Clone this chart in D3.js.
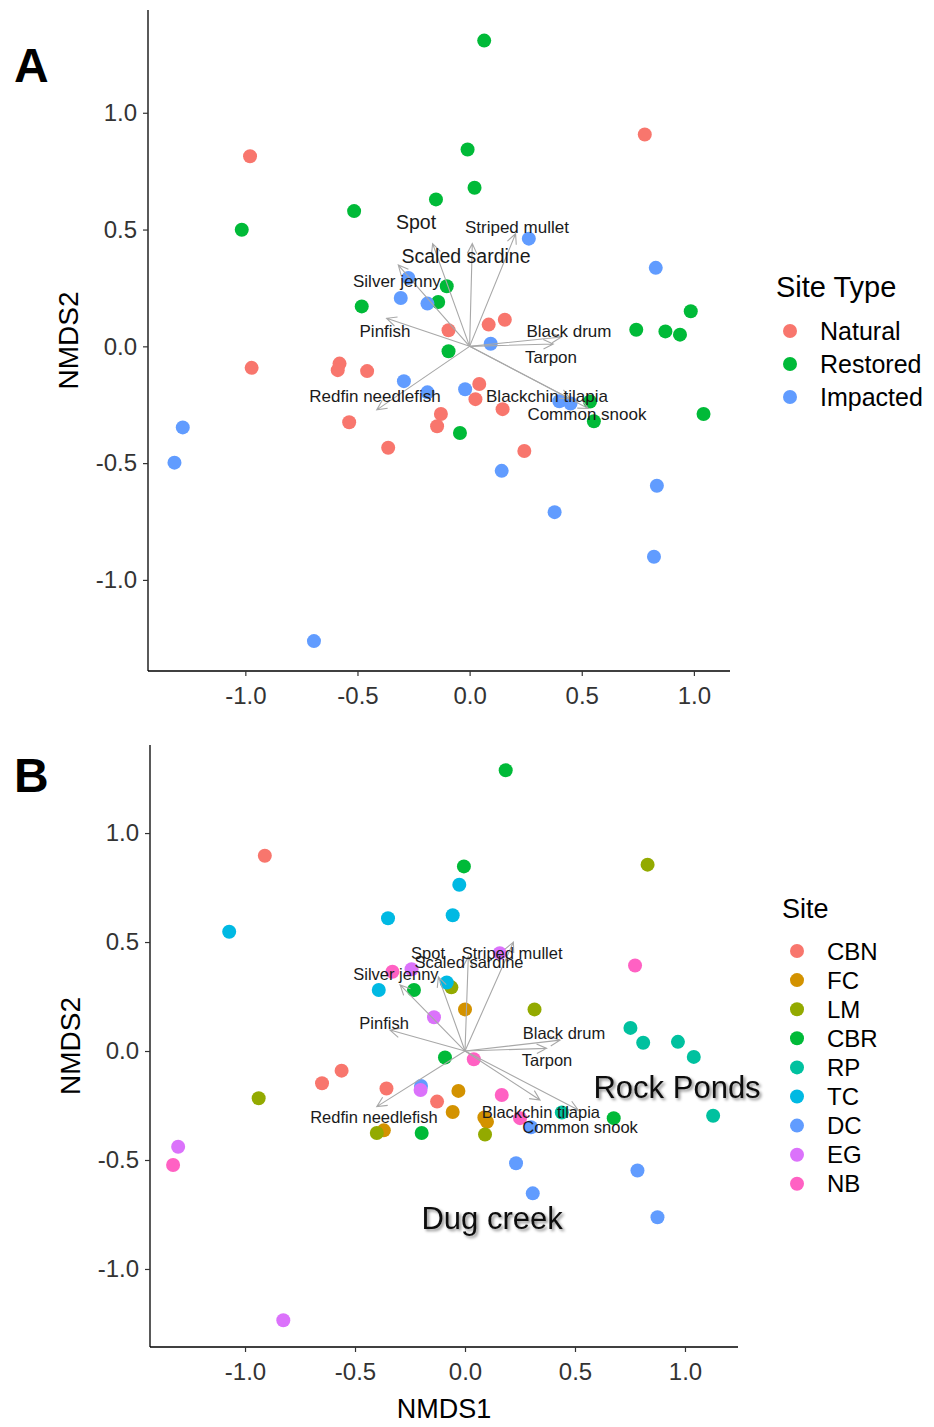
<!DOCTYPE html>
<html>
<head>
<meta charset="utf-8">
<script src="https://cdn.jsdelivr.net/npm/d3@7"></script>
<style>
  html, body { margin: 0; padding: 0; background: #fff; }
  svg { display: block; font-family: "Liberation Sans", Arial, sans-serif; }
</style>
</head>
<body>
<svg id="chart" width="934" height="1427"></svg>
<script>
// ---------------- DATA ----------------
// Panel A: site type groups, [NMDS1, NMDS2]
const siteTypes = ["Natural", "Restored", "Impacted"];
const naturalA = [[0.781,0.907],[-0.979,0.814],[0.157,0.114],[0.085,0.093],[-0.094,0.069],[-0.972,-0.092],
  [-0.580,-0.074],[-0.588,-0.102],[-0.457,-0.106],[0.043,-0.161],[0.026,-0.226],[0.147,-0.269],
  [-0.128,-0.290],[-0.145,-0.342],[-0.537,-0.325],[-0.363,-0.434],[0.244,-0.448]];
const restoredA = [[0.065,1.309],[-0.009,0.843],[0.022,0.679],[-0.150,0.629],[-0.515,0.579],[-1.016,0.499],
  [-0.102,0.257],[-0.140,0.190],[-0.481,0.171],[0.986,0.150],[0.743,0.071],[0.873,0.064],[0.938,0.050],
  [-0.094,-0.021],[0.537,-0.236],[0.554,-0.321],[1.043,-0.290],[-0.043,-0.371]];
const impactedA = [[0.264,0.461],[0.830,0.336],[-0.273,0.293],[-0.307,0.207],[-0.188,0.183],[0.094,0.011],
  [-0.293,-0.149],[-0.188,-0.197],[-0.020,-0.184],[0.400,-0.235],[0.450,-0.245],[-1.279,-0.347],
  [-1.316,-0.498],[0.143,-0.533],[0.835,-0.597],[0.379,-0.710],[0.822,-0.901],[-0.694,-1.262]];

// Panel B: sites
const sites = ["CBN", "FC", "LM", "CBR", "RP", "TC", "DC", "EG", "NB"];
const cbnB = [[-0.910,0.896],[-0.561,-0.090],[-0.650,-0.148],[-0.357,-0.172],[-0.127,-0.232]];
const fcB  = [[0.000,0.191],[-0.030,-0.183],[-0.056,-0.280],[0.088,-0.305],[0.100,-0.325],[-0.369,-0.364]];
const lmB  = [[0.830,0.855],[-0.062,0.292],[0.316,0.191],[-0.938,-0.217],[-0.401,-0.376],[0.091,-0.383]];
const cbrB = [[0.185,1.288],[-0.005,0.847],[-0.232,0.280],[-0.091,-0.030],[0.676,-0.308],[-0.197,-0.376]];
const rpB  = [[0.752,0.106],[0.810,0.038],[0.968,0.042],[1.040,-0.027],[0.440,-0.282],[1.128,-0.297]];
const tcB  = [[-0.026,0.763],[-0.350,0.609],[-0.056,0.623],[-1.072,0.547],[-0.083,0.314],[-0.392,0.280]];
const dcB  = [[-0.200,-0.160],[0.300,-0.350],[0.232,-0.515],[0.784,-0.548],[0.308,-0.653],[0.875,-0.763]];
const egB  = [[0.158,0.449],[-0.243,0.375],[-0.141,0.155],[-0.202,-0.179],[-1.304,-0.439],[-0.826,-1.235]];
const nbB  = [[0.773,0.392],[-0.330,0.364],[0.040,-0.038],[0.167,-0.202],[0.250,-0.308],[-1.327,-0.523]];

// Species vectors (envfit arrows) and label anchors
const species = ["Striped mullet","Scaled sardine","Spot","Silver jenny","Pinfish",
                 "Black drum","Tarpon","Redfin needlefish","Blackchin tilapia","Common snook"];
const vecA_x = [0.205, 0.012, -0.165, -0.318, -0.370, 0.410, 0.373, -0.414, 0.448, 0.529];
const vecA_y = [0.482, 0.440, 0.440, 0.348, 0.120, 0.040, 0.010, -0.272, -0.224, -0.266];
const labA_x = [0.211, -0.016, -0.239, -0.324, -0.377, 0.443, 0.363, -0.422, 0.345, 0.523];
const labA_y = [0.511, 0.387, 0.533, 0.280, 0.066, 0.066, -0.046, -0.212, -0.212, -0.289];

const vecB_x = [0.220, 0.015, -0.121, -0.295, -0.341, 0.432, 0.371, -0.401, 0.341, 0.515];
const vecB_y = [0.500, 0.433, 0.340, 0.303, 0.096, 0.050, 0.012, -0.255, -0.225, -0.271];
const labB_x = [0.214, 0.018, -0.168, -0.314, -0.368, 0.450, 0.373, -0.414, 0.345, 0.523];
const labB_y = [0.450, 0.408, 0.450, 0.353, 0.128, 0.083, -0.041, -0.303, -0.280, -0.349];

// Region annotations in panel B
const regionNames = ["Rock Ponds", "Dug creek"];
const regionX = [0.964, 0.123];
const regionY = [-0.165, -0.766];

const tickValues = [-1.0, -0.5, 0.0, 0.5, 1.0];

// ---------------- DRAWING ----------------
const svg = d3.select("#chart");
const typeColor = d3.scaleOrdinal().domain(siteTypes).range(["#F8766D", "#00BA38", "#619CFF"]);
const siteColor = d3.scaleOrdinal().domain(sites)
  .range(["#F8766D", "#D39200", "#93AA00", "#00BA38", "#00C19F", "#00B9E3", "#619CFF", "#DB72FB", "#FF61C3"]);

const defs = svg.append("defs");
const f = defs.append("filter").attr("id", "shadow").attr("x", "-10%").attr("y", "-30%")
  .attr("width", "130%").attr("height", "170%");
f.append("feDropShadow").attr("dx", 2).attr("dy", 2).attr("stdDeviation", 1.6)
  .attr("flood-color", "#000").attr("flood-opacity", 0.45);

function drawPanel(cfg) {
  const x = d3.scaleLinear().domain(cfg.xDomain).range([cfg.left, cfg.right]);
  const y = d3.scaleLinear().domain(cfg.yDomain).range([cfg.bottom, cfg.top]);
  const g = svg.append("g");

  // axes
  const xAxis = d3.axisBottom(x).tickValues(tickValues).tickFormat(d3.format(".1f")).tickSizeOuter(0).tickSize(5).tickPadding(11);
  const yAxis = d3.axisLeft(y).tickValues(tickValues).tickFormat(d3.format(".1f")).tickSizeOuter(0).tickSize(5).tickPadding(6);
  const gx = g.append("g").attr("transform", `translate(0,${cfg.bottom})`).call(xAxis);
  const gy = g.append("g").attr("transform", `translate(${cfg.left},0)`).call(yAxis);
  [gx, gy].forEach(a => {
    a.select(".domain").attr("stroke", "#000").attr("stroke-width", 1.3);
    a.selectAll(".tick line").attr("stroke", "#333").attr("stroke-width", 1.2);
    a.selectAll(".tick text").attr("fill", "#333").style("font-size", "24px")
      .style("font-family", "'Liberation Sans', Arial, sans-serif");
  });
  gx.selectAll(".tick text").text(d => d3.format(".1f")(d).replace("−", "-"));
  gy.selectAll(".tick text").text(d => d3.format(".1f")(d).replace("−", "-"));
  gx.select(".domain").attr("d", `M${cfg.left},0H${cfg.right}`);
  gy.select(".domain").attr("d", `M0,${cfg.top}V${cfg.bottom}`);

  // points
  cfg.groups.forEach(grp => {
    g.append("g").selectAll("circle").data(grp.pts).join("circle")
      .attr("cx", d => x(d[0])).attr("cy", d => y(d[1])).attr("r", 7)
      .attr("fill", grp.color);
  });

  // arrows
  const ag = g.append("g").attr("stroke", "#A8A8A8").attr("stroke-width", 1.1).attr("fill", "none");
  species.forEach((s, i) => {
    const x0 = x(0), y0 = y(0), x1 = x(cfg.vx[i]), y1 = y(cfg.vy[i]);
    const ang = Math.atan2(y1 - y0, x1 - x0), L = 11, a = Math.PI / 7;
    const p = d3.path();
    p.moveTo(x0, y0); p.lineTo(x1, y1);
    p.moveTo(x1 - L * Math.cos(ang - a), y1 - L * Math.sin(ang - a));
    p.lineTo(x1, y1);
    p.lineTo(x1 - L * Math.cos(ang + a), y1 - L * Math.sin(ang + a));
    ag.append("path").attr("d", p.toString());
  });

  // species labels
  g.append("g").selectAll("text").data(species).join("text")
    .attr("x", (d, i) => x(cfg.lx[i])).attr("y", (d, i) => y(cfg.ly[i]))
    .attr("dy", "0.35em").attr("text-anchor", "middle")
    .attr("fill", "#1a1a1a")
    .style("font-size", (d, i) => (cfg.bigLabels.includes(d) ? cfg.bigSize : cfg.labSize) + "px")
    .text(d => d);

  // panel letter
  svg.append("text").attr("x", 14).attr("y", cfg.letterY).attr("font-weight", "bold")
    .style("font-size", "48px").attr("fill", "#000").text(cfg.letter);

  // y title
  svg.append("text").attr("transform", `translate(${cfg.yTitleX},${(cfg.top + cfg.bottom) / 2}) rotate(-90)`)
    .attr("text-anchor", "middle").attr("dy", "0.35em").style("font-size", "28px").attr("fill", "#000")
    .text("NMDS2");

  // legend
  const lg = svg.append("g");
  lg.append("text").attr("x", cfg.legX).attr("y", cfg.legTitleY).attr("dy", "0.35em")
    .style("font-size", cfg.legTitleSize + "px").attr("fill", "#000").text(cfg.legTitle);
  cfg.legItems.forEach((name, i) => {
    const yy = cfg.legY0 + i * cfg.legStep;
    lg.append("circle").attr("cx", cfg.legDotX).attr("cy", yy).attr("r", 7).attr("fill", cfg.legColor(name));
    lg.append("text").attr("x", cfg.legDotX + 30).attr("y", yy).attr("dy", "0.36em")
      .style("font-size", cfg.legSize + "px").attr("fill", "#000").text(name);
  });
  return { x, y, g };
}

drawPanel({
  xDomain: [-1.434, 1.161], yDomain: [-1.39, 1.44],
  left: 148, right: 730, top: 10, bottom: 671,
  groups: [
    { pts: naturalA, color: typeColor("Natural") },
    { pts: restoredA, color: typeColor("Restored") },
    { pts: impactedA, color: typeColor("Impacted") }
  ],
  vx: vecA_x, vy: vecA_y, lx: labA_x, ly: labA_y,
  labSize: 17, bigSize: 19.5, bigLabels: ["Spot", "Scaled sardine"],
  letter: "A", letterY: 82, yTitleX: 68,
  legTitle: "Site Type", legTitleSize: 29, legX: 776, legTitleY: 287,
  legItems: siteTypes, legColor: typeColor, legDotX: 790, legY0: 331, legStep: 33, legSize: 25
});

const pB = drawPanel({
  xDomain: [-1.432, 1.241], yDomain: [-1.358, 1.404],
  left: 150, right: 738, top: 745, bottom: 1347,
  groups: [
    { pts: cbnB, color: siteColor("CBN") }, { pts: fcB, color: siteColor("FC") },
    { pts: lmB, color: siteColor("LM") }, { pts: cbrB, color: siteColor("CBR") },
    { pts: rpB, color: siteColor("RP") }, { pts: tcB, color: siteColor("TC") },
    { pts: dcB, color: siteColor("DC") }, { pts: egB, color: siteColor("EG") },
    { pts: nbB, color: siteColor("NB") }
  ],
  vx: vecB_x, vy: vecB_y, lx: labB_x, ly: labB_y,
  labSize: 16.5, bigSize: 16.5, bigLabels: [],
  letter: "B", letterY: 792, yTitleX: 70,
  legTitle: "Site", legTitleSize: 27, legX: 782, legTitleY: 909,
  legItems: sites, legColor: siteColor, legDotX: 797, legY0: 951, legStep: 29.1, legSize: 24
});

// region annotations
pB.g.append("g").selectAll("text").data(regionNames).join("text")
  .attr("x", (d, i) => pB.x(regionX[i])).attr("y", (d, i) => pB.y(regionY[i]))
  .attr("dy", "0.35em").attr("text-anchor", "middle")
  .style("font-size", "31px").attr("fill", "#111").attr("filter", "url(#shadow)")
  .text(d => d);

// x title
svg.append("text").attr("x", 444).attr("y", 1409).attr("dy", "0.35em").attr("text-anchor", "middle")
  .style("font-size", "27px").attr("fill", "#000").text("NMDS1");
</script>
</body>
</html>
